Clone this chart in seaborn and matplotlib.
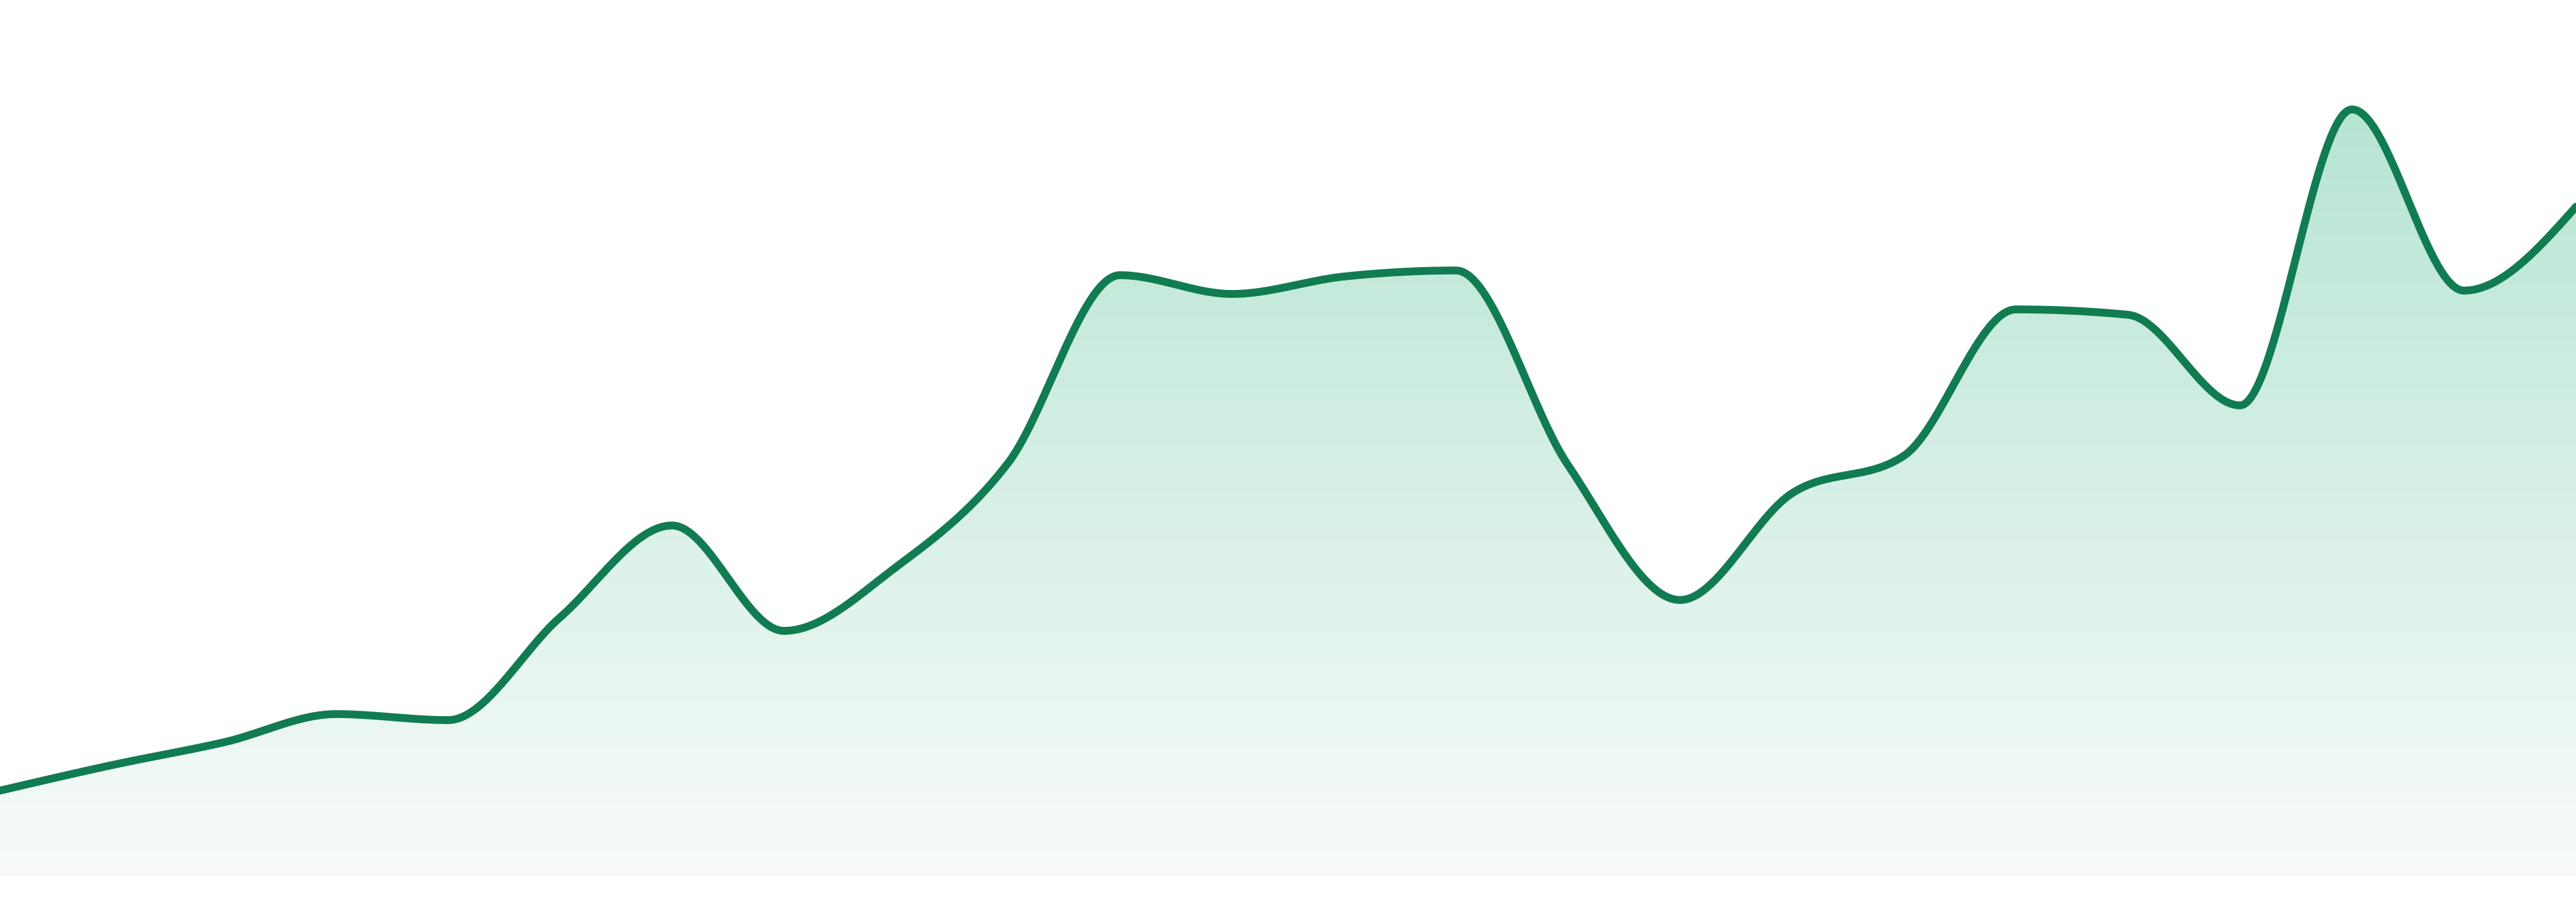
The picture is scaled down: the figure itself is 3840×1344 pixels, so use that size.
import numpy as np
import pandas as pd
import seaborn as sns
import matplotlib.pyplot as plt

# values, 24 evenly spaced samples
steps = list(range(24))
values = [12.7, 16.5, 19.9, 24.1, 23.2, 38.5, 52.2, 36.5, 46.0, 61.5, 89.5, 86.7,
          89.3, 90.2, 61.2, 41.1, 57.0, 62.6, 84.4, 83.6, 70.1, 114.2, 87.2, 99.7]

line_color = "#117b51"
fill_top = (182, 229, 211)
fill_bottom = (248, 251, 250)


def monotone_curve(x, y, per_seg=60):
    """Monotone cubic curve through the points (same rule as d3 curveMonotoneX)."""
    x = np.asarray(x, float)
    y = np.asarray(y, float)
    n = len(x)
    h = np.diff(x)
    s = np.diff(y) / h
    sgn = lambda v: -1.0 if v < 0 else 1.0
    t = np.zeros(n)
    for i in range(1, n - 1):
        h0, h1, s0, s1 = h[i - 1], h[i], s[i - 1], s[i]
        p = (s0 * h1 + s1 * h0) / (h0 + h1)
        t[i] = (sgn(s0) + sgn(s1)) * min(abs(s0), abs(s1), 0.5 * abs(p))
    t[0] = (3 * s[0] - t[1]) / 2
    t[-1] = (3 * s[-1] - t[-2]) / 2
    xs, ys = [], []
    for i in range(n - 1):
        u = np.linspace(0, 1, per_seg, endpoint=(i == n - 2))
        h00 = 2 * u**3 - 3 * u**2 + 1
        h10 = u**3 - 2 * u**2 + u
        h01 = -2 * u**3 + 3 * u**2
        h11 = u**3 - u**2
        xs.append(x[i] + u * h[i])
        ys.append(h00 * y[i] + h10 * h[i] * t[i] + h01 * y[i + 1] + h11 * h[i] * t[i + 1])
    return np.concatenate(xs), np.concatenate(ys)


xs, ys = monotone_curve(steps, values)
df = pd.DataFrame({"step": xs, "value": ys})

sns.set_style("white")
fig = plt.figure(figsize=(19.2, 6.72), dpi=200)
ax = fig.add_axes([0, 0, 1, 1])
ymin, ymax = -3.9, 130.5

# gradient fill under the curve
top_v, bot_v = 114.5, 0.0
grad = np.linspace(0, 1, 256)[:, None]
rgb = np.array(fill_top)[None, None, :] * (1 - grad[..., None]) + np.array(fill_bottom)[None, None, :] * grad[..., None]
rgb = np.repeat(rgb, 2, axis=1) / 255.0
img = ax.imshow(rgb, extent=[steps[0], steps[-1], bot_v, top_v], aspect="auto",
                origin="upper", interpolation="bilinear", zorder=1)
poly = ax.fill_between(df["step"], df["value"], 0, color="none", lw=0)
img.set_clip_path(poly.get_paths()[0], transform=ax.transData)

sns.lineplot(data=df, x="step", y="value", sort=False, estimator=None,
             color=line_color, lw=4.2, ax=ax, zorder=3)

ax.set_xlim(steps[0], steps[-1])
ax.set_ylim(ymin, ymax)
ax.axis("off")
fig.savefig("out.png", dpi=200, facecolor="white")
